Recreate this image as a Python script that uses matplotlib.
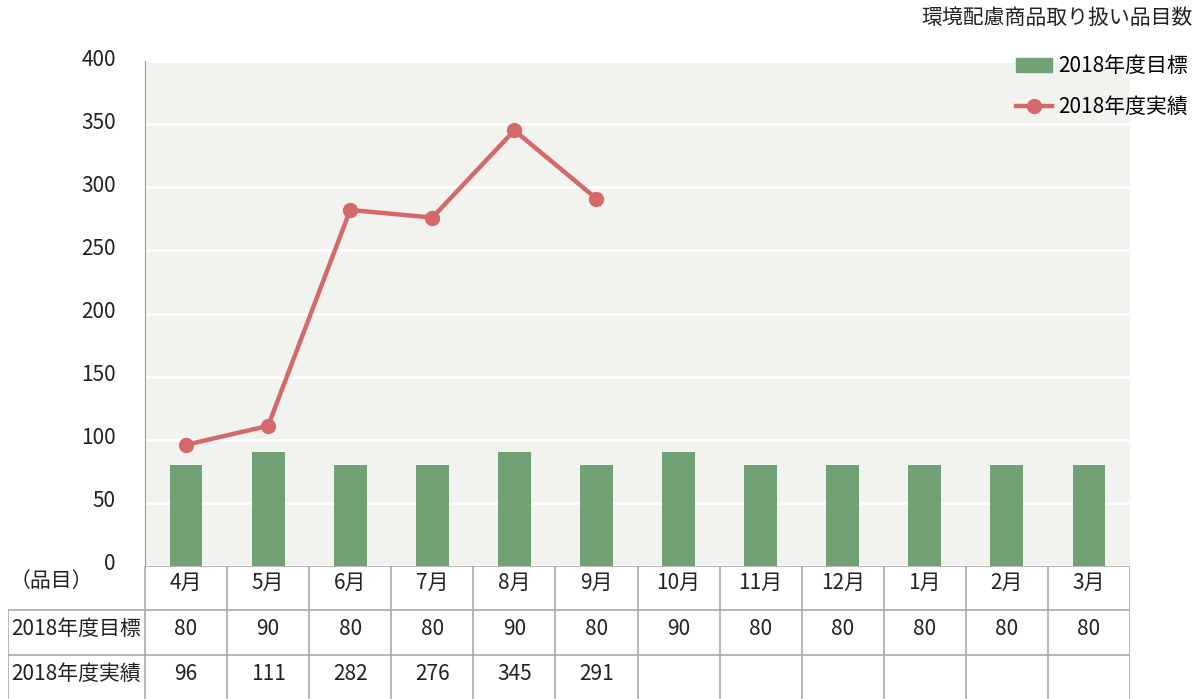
import matplotlib
matplotlib.use("Agg")
import matplotlib.pyplot as plt
import matplotlib.transforms as mtransforms
from matplotlib.lines import Line2D
from matplotlib.patches import Patch

plt.rcParams["font.family"] = ["Noto Sans CJK JP", "DejaVu Sans"]

months = ["4月", "5月", "6月", "7月", "8月", "9月", "10月", "11月", "12月", "1月", "2月", "3月"]
target = [80, 90, 80, 80, 90, 80, 90, 80, 80, 80, 80, 80]
actual = [96, 111, 282, 276, 345, 291]
row_labels = ["2018年度目標", "2018年度実績"]
yticks = [0, 50, 100, 150, 200, 250, 300, 350, 400]

FS = 15
W, H = 1204, 699
fig = plt.figure(figsize=(W / 100, H / 100), dpi=100)

# plot area in pixels
x0, x1 = 145, 1130
ytop, ybot = 61, 566
ax = fig.add_axes([x0 / W, 1 - ybot / H, (x1 - x0) / W, (ybot - ytop) / H])
ax.set_facecolor("#F2F2EE")
n = len(months)
xs = list(range(n))
ax.bar(xs, target, width=0.4, color="#70A275", zorder=3)
ax.plot(xs[:len(actual)], actual, color="#D5686B", lw=3.2, marker="o", ms=10, zorder=4)
ax.set_xlim(-0.5, n - 0.5)
ax.set_ylim(0, 400)
ax.set_yticks(yticks)
ax.yaxis.grid(True, color="white", lw=2)
ax.set_axisbelow(True)
ax.set_xticks([])
ax.tick_params(axis="y", length=0, pad=21, labelsize=FS, labelcolor="#222222")
shift = mtransforms.ScaledTranslation(0, 4 / 100, fig.dpi_scale_trans)
for lab in ax.get_yticklabels():
    lab.set_transform(lab.get_transform() + shift)
for s in ["top", "right", "bottom"]:
    ax.spines[s].set_visible(False)
ax.spines["left"].set_color("#999999")

# table below the plot, sharing the x scale of the plot
colw = (x1 - x0) / n
tx0 = 8
tax = fig.add_axes([tx0 / W, 0, (x1 - tx0) / W, (H - ybot) / H])
left = -0.5 - (x0 - tx0) / colw
tax.set_xlim(left, n - 0.5)
tax.set_ylim(3, 0)
tax.axis("off")
lc = "#AAAAAA"
tax.hlines(0, -0.5, n - 0.5, color=lc, lw=1.2)
tax.hlines([1, 2], left, n - 0.5, color=lc, lw=1.2)
tax.vlines([i - 0.5 for i in range(n + 1)], 0, 3, color=lc, lw=1.2)
tax.vlines(left, 1, 3, color=lc, lw=1.2)
txt = dict(fontsize=FS, color="#222222", ha="center", va="center")
lab_x = (left + -0.5) / 2
tax.text(left + 43 / colw, 0.33, "（品目）", **txt)
for i, m in enumerate(months):
    tax.text(i, 0.38, m, **txt)
    tax.text(i, 1.43, str(target[i]), **txt)
    if i < len(actual):
        tax.text(i, 2.43, str(actual[i]), **txt)
tax.text(lab_x, 1.43, row_labels[0], **txt)
tax.text(lab_x, 2.43, row_labels[1], **txt)

fig.text(1193 / W, 1 - 18 / H, "環境配慮商品取り扱い品目数", fontsize=FS,
         color="#222222", ha="right", va="center")

handles = [Patch(color="#70A275"),
           Line2D([], [], color="#D5686B", lw=3.2, marker="o", ms=10)]
fig.legend(handles, row_labels, loc="upper right", bbox_to_anchor=(1196 / W, 1 - 47 / H),
           frameon=False, fontsize=FS, handlelength=1.7, handletextpad=0.3,
           labelspacing=0.9, borderaxespad=0)

fig.savefig("out.png", dpi=100)
